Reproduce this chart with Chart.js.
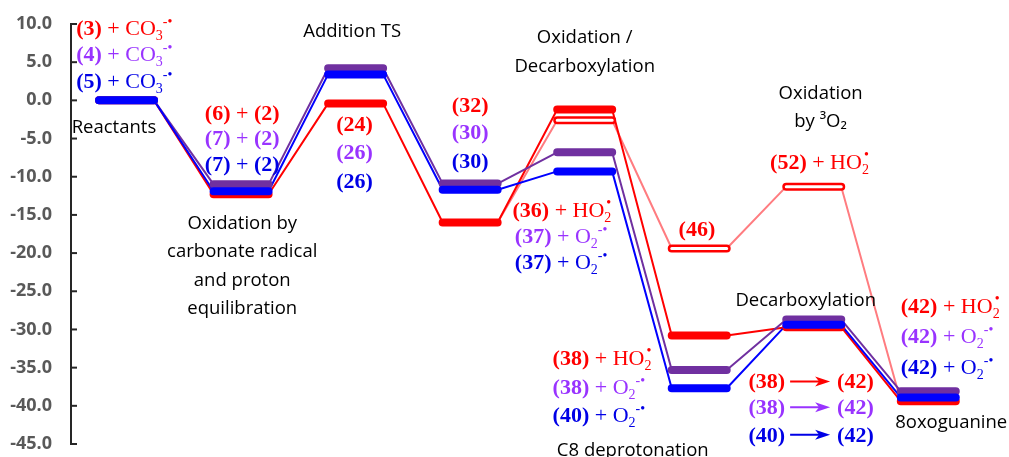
<!DOCTYPE html>
<html>
<head>
<meta charset="utf-8">
<script src="https://cdn.jsdelivr.net/npm/chart.js@4/dist/chart.umd.min.js"></script>
<style>
  html, body { margin: 0; padding: 0; background: #fff; }
  #wrap { width: 1009px; height: 457px; }
</style>
</head>
<body>
<div id="wrap"><canvas id="energyChart"></canvas></div>
<script>
// reaction stages along x, relative energies (kcal/mol) along y
const stages = [0, 1, 2, 3, 4, 5, 6, 7];
const redLevels = [0, -12.3, -0.4, -16.0, -1.2, -30.8, -29.7, -39.4];
const purpleLevels = [0, -11.0, 4.2, -10.9, -6.8, -35.3, -28.7, -38.1];
const blueLevels = [0, -11.9, 3.4, -11.7, -9.3, -37.7, -29.4, -38.9];
// red pathway through oxidation by 3O2 (hollow levels)
const altStages = [4, 5, 6];
const altLevels = [-2.6, -19.4, -11.3];
const yTicks = [10, 5, 0, -5, -10, -15, -20, -25, -30, -35, -40, -45];

const HALF = 0.24; // half length of a level bar, in stage units

const RED = '#ff0000', PURPLE = '#7030a0', BLUE = '#0000ff', PINK = '#ff7c80';
const PURPLE_TXT = '#9933ff', BLUE_TXT = '#0000e6';

function levelPoints(xs, ys) {
    const pts = [];
    xs.forEach((x, i) => {
        pts.push({ x: x - HALF, y: ys[i] }, { x: x + HALF, y: ys[i] }, { x: x + 0.5, y: null });
    });
    return pts;
}

function linkPoints(xs, ys) {
    const pts = [];
    for (let i = 0; i < xs.length - 1; i++) {
        pts.push({ x: xs[i] + HALF, y: ys[i] }, { x: xs[i + 1] - HALF, y: ys[i + 1] }, { x: xs[i + 1], y: null });
    }
    return pts;
}

// the O2 path leaves the red level of stage 3 and ends on the red level of stage 7
const altPathX = [3].concat(altStages, [7]);
const altPathY = [redLevels[3]].concat(altLevels, [redLevels[7]]);

function ds(data, color, width, order) {
    return {
        data: data, borderColor: color, borderWidth: width, order: order,
        pointRadius: 0, tension: 0, spanGaps: false, fill: false,
        borderCapStyle: 'round', borderJoinStyle: 'round'
    };
}

// text helpers
const b = t => ({ t, k: 'b' });
const r = t => ({ t, k: 'r' });
const sub = t => ({ t, k: 'sub' });
const sup = t => ({ t, k: 'sup' });
const dot = () => ({ t: '•', k: 'dot' });
const arrow = () => ({ k: 'arrow' });
const CO3 = [r(' + CO'), sub('3'), sup('-•')];
const HO2 = [r(' + HO'), sub('2'), dot()];
const O2 = [r(' + O'), sub('2'), sup('-•')];

const stepLabels = [
    { lines: ['Reactants'], x: -0.11, y: -3.6 },
    { lines: ['Addition TS'], x: 1.97, y: 9.0 },
    { lines: ['Oxidation by', 'carbonate radical', 'and proton', 'equilibration'], x: 1.01, y: -16.1 },
    { lines: ['Oxidation /', 'Decarboxylation'], x: 4.0, y: 8.2 },
    { lines: ['Oxidation', 'by ³O₂'], x: 6.06, y: 0.9 },
    { lines: ['Decarboxylation'], x: 5.93, y: -26.2 },
    { lines: ['C8 deprotonation'], x: 4.42, y: -45.9 },
    { lines: ['8oxoguanine'], x: 7.2, y: -42.2 }
];

const speciesLabels = [
    { runs: [b('(3)')].concat(CO3), x: -0.44, y: 9.5, align: 'left', color: RED },
    { runs: [b('(4)')].concat(CO3), x: -0.44, y: 6.1, align: 'left', color: PURPLE_TXT },
    { runs: [b('(5)')].concat(CO3), x: -0.44, y: 2.6, align: 'left', color: BLUE_TXT },
    { runs: [b('(6)'), r(' + '), b('(2)')], x: 1.01, y: -1.6, align: 'center', color: RED },
    { runs: [b('(7)'), r(' + '), b('(2)')], x: 1.01, y: -4.9, align: 'center', color: PURPLE_TXT },
    { runs: [b('(7)'), r(' + '), b('(2)')], x: 1.01, y: -8.3, align: 'center', color: BLUE_TXT },
    { runs: [b('(24)')], x: 1.99, y: -3.15, align: 'center', color: RED },
    { runs: [b('(26)')], x: 1.99, y: -6.7, align: 'center', color: PURPLE_TXT },
    { runs: [b('(26)')], x: 1.99, y: -10.5, align: 'center', color: BLUE_TXT },
    { runs: [b('(32)')], x: 3.0, y: -0.66, align: 'center', color: RED },
    { runs: [b('(30)')], x: 3.0, y: -4.2, align: 'center', color: PURPLE_TXT },
    { runs: [b('(30)')], x: 3.0, y: -7.9, align: 'center', color: BLUE_TXT },
    { runs: [b('(36)')].concat(HO2), x: 3.37, y: -14.4, align: 'left', color: RED },
    { runs: [b('(37)')].concat(O2), x: 3.39, y: -17.7, align: 'left', color: PURPLE_TXT },
    { runs: [b('(37)')].concat(O2), x: 3.39, y: -21.2, align: 'left', color: BLUE_TXT },
    { runs: [b('(46)')], x: 4.98, y: -16.8, align: 'center', color: RED },
    { runs: [b('(52)')].concat(HO2), x: 6.05, y: -8.1, align: 'center', color: RED },
    { runs: [b('(38)')].concat(HO2), x: 3.72, y: -33.7, align: 'left', color: RED },
    { runs: [b('(38)')].concat(O2), x: 3.72, y: -37.5, align: 'left', color: PURPLE_TXT },
    { runs: [b('(40)')].concat(O2), x: 3.72, y: -41.2, align: 'left', color: BLUE_TXT },
    { runs: [b('(38)'), arrow(), b('(42)')], x: 5.43, y: -36.8, align: 'left', color: RED },
    { runs: [b('(38)'), arrow(), b('(42)')], x: 5.43, y: -40.2, align: 'left', color: PURPLE_TXT },
    { runs: [b('(40)'), arrow(), b('(42)')], x: 5.43, y: -43.8, align: 'left', color: BLUE_TXT },
    { runs: [b('(42)')].concat(HO2), x: 6.76, y: -26.9, align: 'left', color: RED },
    { runs: [b('(42)')].concat(O2), x: 6.76, y: -30.9, align: 'left', color: PURPLE_TXT },
    { runs: [b('(42)')].concat(O2), x: 6.76, y: -34.9, align: 'left', color: BLUE_TXT }
];

const SERIF = '"Liberation Serif", "Times New Roman", serif';
const SANS = '"Open Sans", Lato, sans-serif';
function runFont(k) {
    if (k === 'b') return 'bold 22px ' + SERIF;
    if (k === 'sub' || k === 'sup' || k === 'dot') return '14px ' + SERIF;
    return '22px ' + SERIF;
}

function drawRuns(ctx, item, px, py) {
    const widths = item.runs.map(run => {
        if (run.k === 'arrow') return 52;
        if (run.k === 'dot') return 0;
        ctx.font = runFont(run.k);
        return ctx.measureText(run.t).width;
    });
    const total = widths.reduce((a, w) => a + w, 0);
    let cx = item.align === 'center' ? px - total / 2 : px;
    const base = py + 7;
    ctx.fillStyle = item.color;
    ctx.strokeStyle = item.color;
    ctx.textAlign = 'left';
    ctx.textBaseline = 'alphabetic';
    item.runs.forEach((run, i) => {
        if (run.k === 'arrow') {
            const x0 = cx + 5, x1 = cx + 45, ay = py;
            ctx.lineWidth = 2;
            ctx.beginPath();
            ctx.moveTo(x0, ay);
            ctx.lineTo(x1 - 8, ay);
            ctx.stroke();
            ctx.beginPath();
            ctx.moveTo(x1, ay);
            ctx.lineTo(x1 - 15, ay - 5);
            ctx.lineTo(x1 - 11, ay);
            ctx.lineTo(x1 - 15, ay + 5);
            ctx.closePath();
            ctx.fill();
        } else {
            ctx.font = runFont(run.k);
            let dy = 0, dx = 0;
            if (run.k === 'sub') dy = 5;
            if (run.k === 'sup') dy = -9;
            if (run.k === 'dot') { dy = -10; dx = -5; }
            ctx.fillText(run.t, cx + dx, base + dy);
        }
        cx += widths[i];
    });
}

const annotations = {
    id: 'annotations',
    afterDraw(chart) {
        const ctx = chart.ctx;
        const xs = chart.scales.x, ys = chart.scales.y;
        ctx.save();
        // inward tick marks on the energy axis
        ctx.strokeStyle = '#262626';
        ctx.lineWidth = 2;
        yTicks.forEach(v => {
            const py = ys.getPixelForValue(v);
            ctx.beginPath();
            ctx.moveTo(ys.right, py);
            ctx.lineTo(ys.right + 6, py);
            ctx.stroke();
        });
        // step names
        ctx.fillStyle = '#000';
        ctx.font = '18.5px ' + SANS;
        ctx.textAlign = 'center';
        ctx.textBaseline = 'middle';
        stepLabels.forEach(l => {
            const px = xs.getPixelForValue(l.x);
            const py = ys.getPixelForValue(l.y);
            l.lines.forEach((line, i) => ctx.fillText(line, px, py + i * 28.5));
        });
        // species
        speciesLabels.forEach(l => {
            drawRuns(ctx, l, xs.getPixelForValue(l.x), ys.getPixelForValue(l.y));
        });
        ctx.restore();
    }
};

new Chart(document.getElementById('energyChart').getContext('2d'), {
    type: 'line',
    data: {
        datasets: [
            ds(levelPoints(altStages, altLevels), '#ffffff', 3, 0),
            ds(levelPoints(altStages, altLevels), RED, 8, 1),
            ds(levelPoints(stages, blueLevels), BLUE, 8, 2),
            ds(levelPoints(stages, purpleLevels), PURPLE, 8, 3),
            ds(levelPoints(stages, redLevels), RED, 8, 4),
            ds(linkPoints(stages, blueLevels), BLUE, 2, 5),
            ds(linkPoints(stages, purpleLevels), PURPLE, 2, 6),
            ds(linkPoints(stages, redLevels), RED, 2, 7),
            ds(linkPoints(altPathX, altPathY), PINK, 2, 8)
        ]
    },
    options: {
        responsive: true,
        maintainAspectRatio: false,
        animation: false,
        events: [],
        layout: { padding: { top: 24, bottom: 13, left: 0, right: 12 } },
        plugins: {
            legend: { display: false },
            tooltip: { enabled: false }
        },
        scales: {
            x: { type: 'linear', display: false, min: -0.485, max: 7.6 },
            y: {
                min: -45, max: 10,
                afterBuildTicks: scale => { scale.ticks = yTicks.map(v => ({ value: v })); },
                afterFit: scale => {
                    scale.width = 71;
                    scale.paddingTop = 0;
                    scale.paddingBottom = 0;
                },
                grid: { display: false, drawTicks: false },
                border: { display: true, color: '#262626', width: 2 },
                ticks: {
                    padding: 19,
                    color: '#595959',
                    font: { family: SANS, size: 18, weight: 'bold' },
                    callback: v => v.toFixed(1)
                }
            }
        }
    },
    plugins: [annotations]
});
</script>
</body>
</html>
